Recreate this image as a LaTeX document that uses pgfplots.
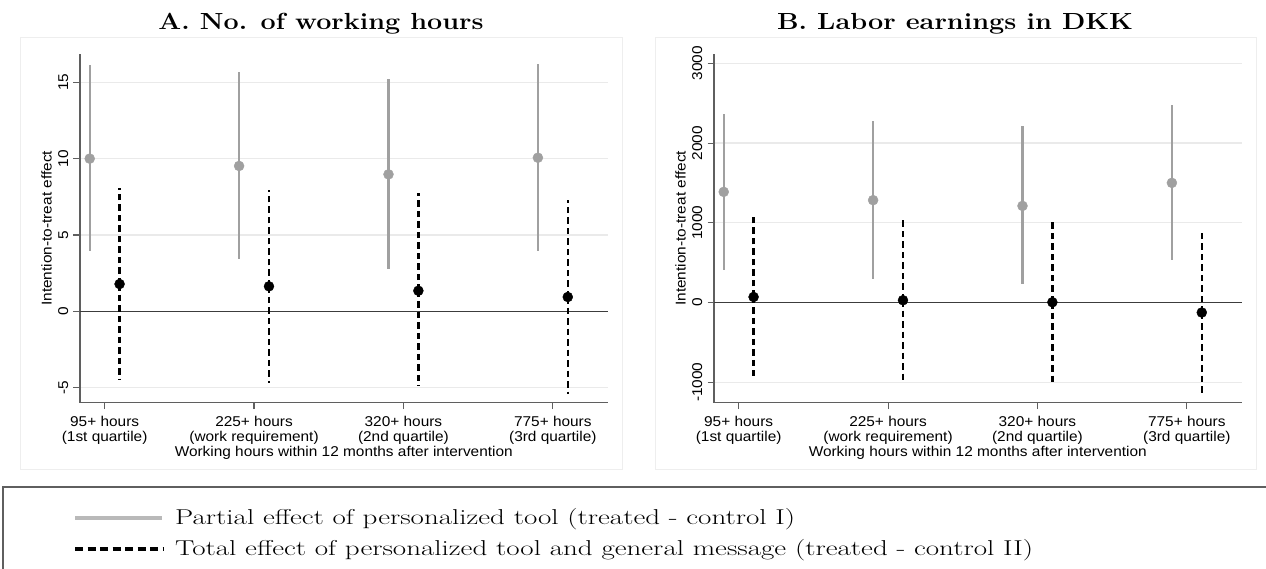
\documentclass[border=0pt]{standalone}
\usepackage{fontspec}
\usepackage{graphicx}
\usepackage{pgfplots}
\usepackage{pgfplotstable}
\pgfplotsset{compat=1.18}
\newfontfamily\arialx[FakeStretch=1.085]{Liberation Sans}
\newcommand{\ticksfont}{\arialx\fontsize{14.2}{15}\selectfont}
\definecolor{ptgray}{RGB}{160,160,160}
\definecolor{gridgray}{RGB}{234,234,234}
\definecolor{axgray}{RGB}{95,95,95}
\definecolor{zerogray}{RGB}{60,60,60}
\definecolor{boxgray}{RGB}{238,238,238}
\definecolor{leggray}{RGB}{185,185,185}

\pgfplotstableread{
x y lo hi
0.9 10.00 3.93 16.15
1.9 9.52 3.41 15.69
2.9 8.97 2.80 15.20
3.9 10.06 3.93 16.20
}\Agray
\pgfplotstableread{
x y lo hi
1.1 1.79 -4.45 8.10
2.1 1.64 -4.69 7.95
3.1 1.35 -4.89 7.75
4.1 0.94 -5.39 7.27
}\Ablack
\pgfplotstableread{
x y lo hi
0.9 1388 414 2363
1.9 1284 301 2271
2.9 1212 230 2208
3.9 1501 530 2476
}\Bgray
\pgfplotstableread{
x y lo hi
1.1 70 -925 1079
2.1 29 -975 1045
3.1 4 -1020 1031
4.1 -125 -1140 893
}\Bblack

\pgfplotsset{
 stata/.style={
  scale only axis, anchor=south west,
  width=527.5pt, height=348.7pt,
  xmin=0.835, xmax=4.366,
  axis x line*=bottom, axis y line*=left,
  axis line style={draw=axgray, line width=1.1pt, -},
  xtick={1,2,3,4},
  xticklabels={{95+ hours\\(1st quartile)},{225+ hours\\(work requirement)},{320+ hours\\(2nd quartile)},{775+ hours\\(3rd quartile)}},
  xticklabel style={align=center, font=\ticksfont, inner sep=0pt, anchor=north},
  xticklabel shift=6.4pt,
  tick align=outside, major tick length=6.5pt,
  tick style={draw=axgray, line width=1.1pt},
  yticklabel style={rotate=90, anchor=south, font=\ticksfont, inner sep=0pt},
  yticklabel shift=5pt,
  ymajorgrids, grid style={draw=gridgray, line width=1.3pt},
  xlabel={Working hours within 12 months after intervention},
  xlabel style={font=\ticksfont, at={(axis description cs:0.5,0)}, anchor=base, yshift=-53.3pt, inner sep=0pt},
  ylabel={Intention-to-treat effect},
  ylabel style={font=\ticksfont, at={(axis description cs:-0.0635,0.5)}, anchor=center, inner sep=0pt},
  clip=false,
 },
 gray ci/.style={only marks, mark=*, mark size=5pt, color=ptgray, mark options={draw=ptgray, fill=ptgray, solid},
   error bars/.cd, y dir=both, y explicit, error mark=none, error bar style={line width=2.2pt, ptgray, solid}},
 black ci/.style={only marks, mark=*, mark size=5pt, color=black, mark options={draw=black, fill=black, solid},
   error bars/.cd, y dir=both, y explicit, error mark=none, error bar style={line width=2.3pt, black, dash pattern=on 6.5pt off 4pt}},
}

\begin{document}
\begin{tikzpicture}
\useasboundingbox (0pt,0pt) rectangle (1266pt,-568pt);
% panel regions
\draw[boxgray, line width=0.8pt, fill=white] (20pt,-37.7pt) rectangle (622.3pt,-469pt);
\draw[boxgray, line width=0.8pt, fill=white] (655pt,-37.7pt) rectangle (1256pt,-469pt);
% titles
\node[anchor=base, inner sep=0pt] at (321pt,-29.3pt) {\resizebox{325pt}{\height}{\fontsize{23.3}{28}\selectfont\bfseries A. No. of working hours}};
\node[anchor=base, inner sep=0pt] at (955pt,-29.3pt) {\resizebox{356pt}{\height}{\fontsize{23.3}{28}\selectfont\bfseries B. Labor earnings in DKK}};

\begin{axis}[stata, at={(80pt,-402.7pt)}, ymin=-5.98, ymax=16.85,
  ytick={-5,0,5,10,15}, yticklabels={-5,0,5,10,15}]
\addplot[zerogray, line width=1.3pt, forget plot] coordinates {(0.835,0) (4.366,0)};
\addplot[gray ci] table[x=x, y=y, y error plus expr=\thisrow{hi}-\thisrow{y}, y error minus expr=\thisrow{y}-\thisrow{lo}] {\Agray};
\addplot[black ci] table[x=x, y=y, y error plus expr=\thisrow{hi}-\thisrow{y}, y error minus expr=\thisrow{y}-\thisrow{lo}] {\Ablack};
\end{axis}

\begin{axis}[stata, at={(714pt,-402.7pt)}, ymin=-1256, ymax=3117,
  ytick={-1000,0,1000,2000,3000}, yticklabels={-1000,0,1000,2000,3000}]
\addplot[zerogray, line width=1.3pt, forget plot] coordinates {(0.835,0) (4.366,0)};
\addplot[gray ci] table[x=x, y=y, y error plus expr=\thisrow{hi}-\thisrow{y}, y error minus expr=\thisrow{y}-\thisrow{lo}] {\Bgray};
\addplot[black ci] table[x=x, y=y, y error plus expr=\thisrow{hi}-\thisrow{y}, y error minus expr=\thisrow{y}-\thisrow{lo}] {\Bblack};
\end{axis}

% legend box
\draw[axgray, line width=1.5pt] (3pt,-569pt) -- (3pt,-487pt) -- (1267pt,-487pt);
\draw[leggray, line width=3.2pt] (75pt,-518pt) -- (162pt,-518pt);
\draw[black, line width=3.6pt, dash pattern=on 8pt off 4.5pt] (75pt,-549pt) -- (164pt,-549pt);
\node[anchor=west, inner sep=0pt] at (175pt,-519pt) {\resizebox{620pt}{\height}{\fontsize{21.5}{24}\selectfont Partial effect of personalized tool (treated - control I)}};
\node[anchor=west, inner sep=0pt] at (175pt,-550pt) {\resizebox{858pt}{\height}{\fontsize{21.5}{24}\selectfont Total effect of personalized tool and general message (treated - control II)}};
\end{tikzpicture}
\end{document}
